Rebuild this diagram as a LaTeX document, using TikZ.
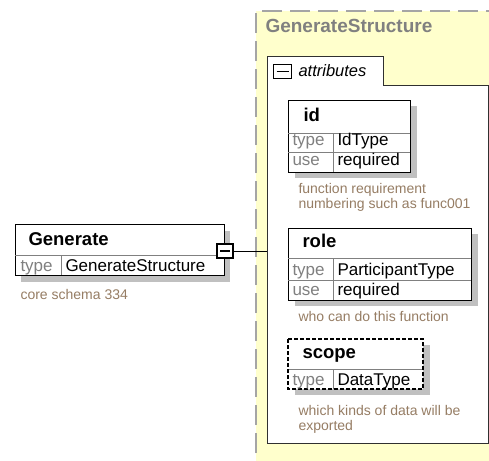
\documentclass[tikz,border=0pt]{standalone}
\usepackage{fontspec}
\setmainfont{Liberation Sans}
\usetikzlibrary{calc}
\definecolor{ylw}{RGB}{255,255,204}
\definecolor{docc}{RGB}{150,125,100}
\definecolor{shd}{RGB}{192,192,192}
\definecolor{lbl}{RGB}{128,128,128}
\definecolor{dsh}{RGB}{165,165,165}
\definecolor{hdr}{RGB}{128,128,128}
\definecolor{pnl}{RGB}{48,48,48}
\begin{document}
\begin{tikzpicture}[x=1pt,y=-1pt,line width=1pt,
  box/.style={draw=black,fill=white,anchor=north west,inner sep=0,outer sep=0},
  shadowbox/.style={fill=shd,draw=none,anchor=north west,inner sep=0,outer sep=0},
  ttl/.style={anchor=base west,inner sep=0,font=\fontsize{18.5}{20}\selectfont\bfseries},
  lab/.style={anchor=base west,inner sep=0,text=lbl,font=\fontsize{17}{19}\selectfont},
  val/.style={anchor=base west,inner sep=0,font=\fontsize{17}{19}\selectfont},
  doc/.style={anchor=base west,inner sep=0,text=docc,font=\fontsize{14}{16}\selectfont},
  sep/.style={draw=lbl,line width=0.8pt},
  minusbox/.style={draw=black,fill=white,inner sep=0,outer sep=0}]
\clip (0,0) rectangle (489,460);
\fill[white] (0,0) rectangle (489,460);
% outer complex type area
\node[fill=ylw,anchor=north west,minimum width=260,minimum height=470,inner sep=0,outer sep=0] (gs) at (256,11) {};
\draw[dsh,line width=1.5pt,dash pattern=on 20pt off 8pt] (gs.south west) -- (gs.north west) -- (gs.north east);
\node[anchor=base west,inner sep=0,text=hdr,font=\fontsize{19}{21}\selectfont\bfseries] (gst) at (265,33) {GenerateStructure};
% attributes panel and tab
\node[fill=white,anchor=north west,minimum width=221,minimum height=358,inner sep=0,outer sep=0] (panel) at (267,85) {};
\node[fill=white,anchor=north west,minimum width=116,minimum height=29,inner sep=0,outer sep=0] (tab) at (267,56) {};
\draw[pnl] (panel.south west) -- (tab.north west) -- (tab.north east) -- (tab.south east) -- (panel.north east) -- (panel.south east) -- cycle;
\node[minusbox,minimum width=18,minimum height=14] (tm) at (282.5,71.5) {};
\draw ($(tm.west)+(3,0)$) -- ($(tm.east)+(-3,0)$);
\node[anchor=base west,inner sep=0,font=\fontsize{16.5}{18}\selectfont\itshape] (attr) at (298,76) {attributes};
% Generate element
\node[shadowbox,minimum width=209,minimum height=51] (gensh) at (21,231) {};
\node[box,minimum width=209,minimum height=51] (gen) at (15,224) {};
\draw[sep] (15,255) -- (224,255);
\draw[sep] (61,255) -- (61,275);
\node[ttl] (gent) at (28,245) {Generate};
\node[lab] (genl) at (20,271) {type};
\node[val] (genv) at (65,271) {GenerateStructure};
\node[doc] (gend) at (20,299) {core schema 334};
\node[minusbox,line width=2pt,minimum width=16,minimum height=14] (gm) at (225,251) {};
\draw[line width=1.2pt] (220,251) -- (230,251);
\draw (gm.east) -- (gm.east -| panel.west);
% id
\node[shadowbox,minimum width=122,minimum height=72] (idsh) at (295,106) {};
\node[box,minimum width=122,minimum height=72] (id) at (288,100) {};
\draw[sep] (288,133) -- (410,133);
\draw[sep] (288,152) -- (410,152);
\draw[sep] (333,133) -- (333,172);
\node[ttl] (idt) at (303,121) {id};
\node[lab] (idl1) at (292,145) {type};
\node[val] (idv1) at (337,145) {IdType};
\node[lab] (idl2) at (292,165) {use};
\node[val] (idv2) at (337,165) {required};
\node[doc] (idd1) at (298,193) {function requirement};
\node[doc] (idd2) at (298,208) {numbering such as func001};
% role
\node[shadowbox,minimum width=183,minimum height=72] (rolesh) at (295,234) {};
\node[box,minimum width=183,minimum height=72] (role) at (288,228) {};
\draw[sep] (288,258) -- (471,258);
\draw[sep] (288,280) -- (471,280);
\draw[sep] (333,258) -- (333,300);
\node[ttl] (rolet) at (302,247) {role};
\node[lab] (rolel1) at (292,275) {type};
\node[val] (rolev1) at (337,275) {ParticipantType};
\node[lab] (rolel2) at (292,295) {use};
\node[val] (rolev2) at (337,295) {required};
\node[doc] (roled) at (298,321) {who can do this function};
% scope
\node[shadowbox,minimum width=135,minimum height=50] (scopesh) at (295,345) {};
\node[box,draw=none,minimum width=135,minimum height=50] (scope) at (288,339) {};
\draw[sep] (288,369) -- (423,369);
\draw[sep] (333,369) -- (333,389);
\draw[dash pattern=on 4pt off 2pt,line width=1.3pt] (scope.north west) rectangle (scope.south east);
\node[ttl] (scopet) at (302,358) {scope};
\node[lab] (scopel) at (292,385) {type};
\node[val] (scopev) at (337,385) {DataType};
\node[doc] (scoped1) at (298,415) {which kinds of data will be};
\node[doc] (scoped2) at (298,430) {exported};
\end{tikzpicture}
\end{document}
